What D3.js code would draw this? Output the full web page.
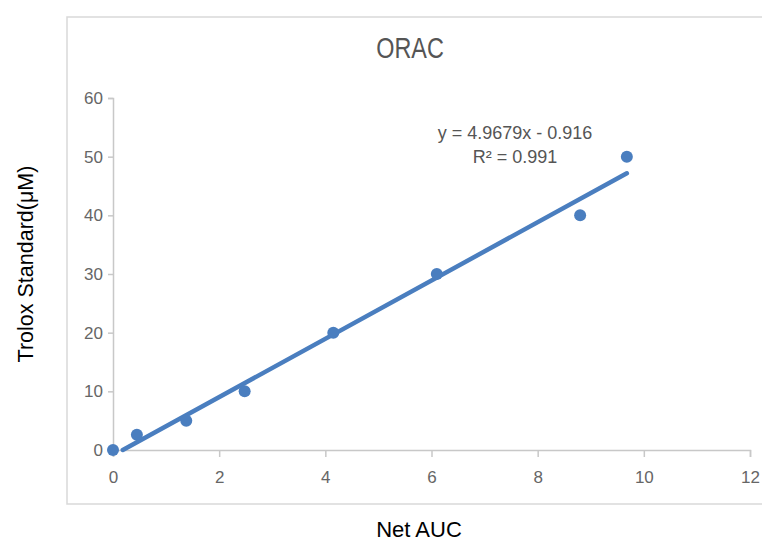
<!DOCTYPE html>
<html>
<head>
<meta charset="utf-8">
<script src="https://cdn.jsdelivr.net/npm/d3@7"></script>
<style>
  body { margin: 0; background: #fff; }
  svg { display: block; }
  .tick text { font-family: "Liberation Sans", Arial, sans-serif; font-size: 17px; fill: #666; }
  .tick line, .domain { stroke: #c8c8c8; stroke-width: 1.5; }
</style>
</head>
<body>
<svg id="chart" width="762" height="542"></svg>
<script>
// Net AUC (x) against Trolox standard concentration (y)
const netAUC = [0, 0.45, 1.38, 2.48, 4.15, 6.1, 8.8, 9.68];
const trolox = [0, 2.6, 5, 10, 20, 30, 40, 50];
const xTicks = [0, 2, 4, 6, 8, 10, 12];
const yTicks = [0, 10, 20, 30, 40, 50, 60];
const slope = 4.9679;
const intercept = -0.916;
const equationLines = ["y = 4.9679x - 0.916", "R² = 0.991"];

const svg = d3.select("#chart");
const blue = "#4a7ebf";
const margin = { left: 113, right: 12, top: 98, bottom: 92 };
const width = 762, height = 542;

const x = d3.scaleLinear().domain([0, 12]).range([margin.left, width - margin.right]);
const y = d3.scaleLinear().domain([0, 60]).range([height - margin.bottom, margin.top]);

// chart frame
svg.append("rect")
  .attr("x", 67).attr("y", 17)
  .attr("width", 720).attr("height", 487)
  .attr("fill", "#fff")
  .attr("stroke", "#d9d9d9")
  .attr("stroke-width", 1.5);

svg.append("g")
  .attr("transform", `translate(0,${y(0)})`)
  .call(d3.axisBottom(x).tickValues(xTicks).tickSizeOuter(0).tickSize(7).tickPadding(14))
  .call((g) => g.selectAll(".tick text").attr("dy", "0.71em"));

svg.append("g")
  .attr("transform", `translate(${x(0)},0)`)
  .call(d3.axisLeft(y).tickValues(yTicks).tickSizeOuter(0).tickSize(5).tickPadding(5));

// trendline, drawn from where it crosses zero to the last point
const x0 = -intercept / slope;
const x1 = d3.max(netAUC);
svg.append("line")
  .attr("x1", x(x0)).attr("y1", y(slope * x0 + intercept))
  .attr("x2", x(x1)).attr("y2", y(slope * x1 + intercept))
  .attr("stroke", blue)
  .attr("stroke-width", 4.5)
  .attr("stroke-linecap", "round");

svg.append("g")
  .selectAll("circle")
  .data(netAUC.map((v, i) => [v, trolox[i]]))
  .join("circle")
  .attr("cx", (d) => x(d[0]))
  .attr("cy", (d) => y(d[1]))
  .attr("r", 6)
  .attr("fill", blue);

// title
svg.append("text")
  .attr("transform", "translate(410,58) scale(0.78,1)")
  .attr("text-anchor", "middle")
  .attr("font-family", "'Liberation Sans', Arial, sans-serif")
  .attr("font-size", 30)
  .attr("fill", "#555")
  .text("ORAC");

// equation label
svg.append("g")
  .selectAll("text")
  .data(equationLines)
  .join("text")
  .attr("x", 515)
  .attr("y", (d, i) => 139 + i * 24)
  .attr("text-anchor", "middle")
  .attr("font-family", "'Liberation Sans', Arial, sans-serif")
  .attr("font-size", 18)
  .attr("fill", "#555")
  .text((d) => d);

// axis titles
svg.append("text")
  .attr("x", 419).attr("y", 537)
  .attr("text-anchor", "middle")
  .attr("font-family", "Arial, 'Liberation Sans', sans-serif")
  .attr("font-size", 22)
  .attr("fill", "#000")
  .text("Net AUC");

svg.append("text")
  .attr("transform", "translate(33,264) rotate(-90)")
  .attr("text-anchor", "middle")
  .attr("font-family", "Arial, 'Liberation Sans', sans-serif")
  .attr("font-size", 21.5)
  .attr("fill", "#000")
  .text("Trolox Standard(μM)");
</script>
</body>
</html>
